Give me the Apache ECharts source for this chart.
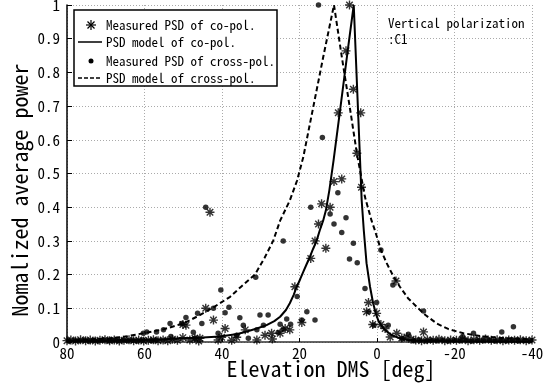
<!doctype html>
<html>
<head>
<meta charset="utf-8">
<title>PSD elevation</title>
<script src="https://cdn.jsdelivr.net/npm/echarts@6.0.0/dist/echarts.min.js"></script>
<style>
  html, body { margin: 0; padding: 0; background: #fff; }
  #main { width: 552px; height: 391px; }
</style>
</head>
<body>
<div id="main"></div>
<script>
var FONT = "'Noto Sans Mono CJK JP', 'DejaVu Sans Mono', monospace";

// axis ranges (x runs 80 -> -40)
var xMin = -40, xMax = 80, xStep = 20;
var yMin = 0, yMax = 1, yStep = 0.1;

var legendNames = ['Measured PSD of co-pol.', 'PSD model of co-pol.', 'Measured PSD of cross-pol.', 'PSD model of cross-pol.'];

// measured co-pol (asterisks) [deg, power]
var coMeasured = [
  [7.1,1.0],[8.0,0.864],[6.1,0.75],[10.0,0.68],[4.2,0.68],[5.2,0.56],
  [9.1,0.484],[11.1,0.476],[4.0,0.459],[14.3,0.41],[12.1,0.40],[15.1,0.35],
  [16.0,0.30],[13.2,0.278],[17.1,0.248],[21.2,0.164],[43.1,0.385],
  [2.2,0.117],[2.7,0.09],[-4.9,0.181],[0.1,0.085],[1.1,0.052],[-1.0,0.052],
  [-2.1,0.04],[-5.1,0.026],[-12,0.03],[44.2,0.1],[42.2,0.065],[49.3,0.05],
  [50.1,0.052],[19.4,0.058],[39.2,0.04],[34,0.036],[28.9,0.02],[27.2,0.026],
  [25,0.026],[23.7,0.04],[22.5,0.036],[45.7,0.011],[36.2,0.014],[40.1,0.014],
  [48.3,0.006],[50.1,0.013],[47,0.011],[-3.4,0.015],[-6.4,0.012],[-7.7,0.015],
  [-8.8,0.008],
  [80,0.004],[79,0.006],[77.8,0.003],[76.5,0.007],[75.2,0.004],[74,0.006],
  [72.7,0.003],[71.5,0.005],[70.2,0.007],[69,0.004],[67.8,0.006],[66.5,0.003],
  [65.3,0.005],[64,0.007],[62.8,0.004],[61.5,0.006],[60.2,0.003],[59,0.005],
  [57.7,0.007],[56.5,0.004],[55.2,0.006],[54,0.004],[52.8,0.008],[51.5,0.005],
  [46,0.003],[41,0.006],[37.5,0.005],[31,0.006],[27,0.009],
  [-10,0.006],[-11.5,0.004],[-13,0.007],[-14.5,0.005],[-16,0.008],[-17.5,0.004],
  [-19,0.006],[-20.5,0.005],[-22,0.008],[-23.5,0.004],[-25,0.007],[-26.5,0.005],
  [-28,0.009],[-29.5,0.005],[-31,0.007],[-32.5,0.004],[-34,0.006],[-35.5,0.005],
  [-37,0.007],[-38.5,0.004],[-40,0.006]
];

// measured cross-pol (dots) [deg, power]
var crossMeasured = [
  [15.1,1.0],[14.1,0.607],[10.1,0.443],[17.1,0.40],[12.1,0.38],[8.0,0.369],
  [11.1,0.35],[9.1,0.325],[24.2,0.30],[6.1,0.293],[-1.0,0.273],[7.1,0.246],
  [5.1,0.235],[31.3,0.192],[-4.1,0.169],[3.1,0.159],[40.3,0.154],[20.6,0.135],
  [44.2,0.40],[0.1,0.117],[2.1,0.09],[18.1,0.09],[16,0.065],[19.4,0.065],
  [30.2,0.08],[28.1,0.08],[-12,0.092],[-2.9,0.05],[0.8,0.05],[-8.1,0.023],
  [-22.1,0.016],[-24.9,0.026],[-32.2,0.03],[-35.2,0.045],[42.2,0.1],[38.2,0.103],
  [39.2,0.087],[46.3,0.085],[49.3,0.073],[35.4,0.072],[45.2,0.055],[50.4,0.055],
  [53.4,0.055],[55.1,0.036],[56.9,0.03],[59.4,0.03],[60.3,0.026],[53.2,0.016],
  [47.4,0.029],[41,0.026],[34.5,0.05],[29.3,0.05],[31,0.036],[23.3,0.068],
  [25,0.053],[22.3,0.053],[24.2,0.038],[25.5,0.028],[33.2,0.011],[36.2,0.02],
  [47,0.011],[-6.5,0.01],
  [79.5,0.003],[78,0.005],[76.8,0.004],[75.5,0.006],[74.2,0.003],[73,0.005],
  [71.8,0.004],[70.5,0.006],[69.2,0.003],[68,0.005],[66.8,0.004],[65.5,0.006],
  [64.3,0.004],[63,0.005],[61.8,0.003],[60.5,0.006],[58.2,0.004],[57,0.006],
  [-9.5,0.004],[-11,0.006],[-12.8,0.003],[-14,0.005],[-15.5,0.004],[-17,0.006],
  [-18.5,0.003],[-20,0.005],[-21.5,0.004],[-23,0.006],[-24.5,0.003],[-26,0.005],
  [-27.5,0.004],[-29,0.006],[-30.5,0.003],[-32,0.005],[-33.5,0.004],[-35,0.006],
  [-36.5,0.003],[-38,0.005],[-39.5,0.004]
];

// model curves [deg, power]
var coModel = [
  [80,0.003],[70,0.004],[60,0.006],[55,0.008],[50,0.011],[45,0.013],[40.5,0.016],
  [36,0.024],[33.6,0.031],[31,0.04],[28.5,0.05],[26.5,0.062],[25,0.075],[23.5,0.095],
  [22.5,0.115],[21.5,0.14],[20.7,0.164],[19.8,0.187],[19,0.209],[18.2,0.23],
  [17.3,0.253],[16.5,0.276],[15.6,0.30],[14.8,0.33],[13.9,0.36],[13.2,0.39],
  [12.3,0.45],[11.2,0.54],[9.5,0.69],[7.5,0.87],[6,1.0],
  [4.8,0.66],[3.95,0.42],[3.4,0.33],[2.7,0.234],[1.8,0.164],[1.0,0.115],
  [0.3,0.085],[-0.3,0.065],[-1.3,0.045],[-2.5,0.031],[-4,0.019],[-5.9,0.011],
  [-8,0.006],[-10.2,0.004],[-20,0.002],[-40,0.001]
];

var crossModel = [
  [80,0.004],[75,0.007],[68.9,0.011],[65,0.016],[60.3,0.026],[55,0.038],[50,0.055],
  [46.5,0.075],[42.2,0.103],[37.9,0.134],[35,0.165],[31.5,0.2],[29,0.25],[26.8,0.30],
  [25,0.36],[22.5,0.42],[20.6,0.48],[19,0.55],[16.4,0.70],[13.8,0.85],[11.1,1.0],
  [9,0.84],[6.8,0.68],[5.2,0.56],[3.1,0.43],[1.4,0.36],[0.5,0.33],[-0.3,0.30],
  [-1.0,0.273],[-2.5,0.234],[-4,0.2],[-5.9,0.164],[-8,0.13],[-10.2,0.105],
  [-12.5,0.08],[-15.4,0.055],[-18.5,0.038],[-22.3,0.026],[-27,0.017],[-32,0.012],
  [-40,0.008]
];

var ASTERISK = 'path://M0,-5L0,5M-5,0L5,0M-3.6,-3.6L3.6,3.6M-3.6,3.6L3.6,-3.6';

var chart = echarts.init(document.getElementById('main'), null, { renderer: 'canvas' });

var option = {
  animation: false,
  backgroundColor: '#fff',
  grid: { left: 67, right: 20, top: 5, bottom: 49, containLabel: false, outerBoundsMode: 'none' },
  xAxis: {
    type: 'value', min: xMin, max: xMax, interval: xStep, inverse: true,
    axisLine: { show: true, onZero: false, lineStyle: { color: '#333', width: 1.5 } },
    axisTick: { show: true, inside: true, length: 4, lineStyle: { color: '#000' } },
    axisLabel: { color: '#000', fontFamily: FONT, fontSize: 15, margin: 4 },
    splitLine: { show: true, lineStyle: { color: '#aaa', type: [1, 2], width: 1 } }
  },
  yAxis: {
    type: 'value', min: yMin, max: yMax, interval: yStep,
    axisLine: { show: true, onZero: false, lineStyle: { color: '#000', width: 1.5 } },
    axisTick: { show: true, inside: true, length: 5, lineStyle: { color: '#000' } },
    axisLabel: { color: '#000', fontFamily: FONT, fontSize: 15, margin: 7 },
    splitLine: { show: true, lineStyle: { color: '#aaa', type: [1, 2], width: 1 } }
  },
  series: [
    {
      name: legendNames[1], type: 'line', data: coModel, showSymbol: false, symbol: 'none',
      lineStyle: { color: '#000', width: 2 }, z: 3
    },
    {
      name: legendNames[3], type: 'line', data: crossModel, showSymbol: false, symbol: 'none',
      lineStyle: { color: '#000', width: 2, type: [5, 3] }, z: 3
    },
    {
      name: legendNames[0], type: 'scatter', data: coMeasured, symbol: ASTERISK, symbolSize: 9,
      itemStyle: { color: '#000', borderColor: '#000', borderWidth: 1.4 }, z: 4
    },
    {
      name: legendNames[2], type: 'scatter', data: crossMeasured, symbol: 'circle', symbolSize: 5.5,
      itemStyle: { color: '#000' }, z: 4
    }
  ],
  graphic: [
    { type: 'rect', z: 100, shape: { x: 74, y: 10, width: 203, height: 76 },
      style: { fill: '#fff', stroke: '#000', lineWidth: 1.5 } },
    // asterisk icon
    { type: 'line', z: 101, shape: { x1: 91, y1: 20, x2: 91, y2: 30 }, style: { stroke: '#000', lineWidth: 1.2 } },
    { type: 'line', z: 101, shape: { x1: 86, y1: 25, x2: 96, y2: 25 }, style: { stroke: '#000', lineWidth: 1.2 } },
    { type: 'line', z: 101, shape: { x1: 87.5, y1: 21.5, x2: 94.5, y2: 28.5 }, style: { stroke: '#000', lineWidth: 1.2 } },
    { type: 'line', z: 101, shape: { x1: 87.5, y1: 28.5, x2: 94.5, y2: 21.5 }, style: { stroke: '#000', lineWidth: 1.2 } },
    // solid line icon
    { type: 'line', z: 101, shape: { x1: 78, y1: 42, x2: 102, y2: 42 }, style: { stroke: '#000', lineWidth: 1.5 } },
    // dot icon
    { type: 'circle', z: 101, shape: { cx: 91, cy: 61, r: 2.5 }, style: { fill: '#000' } },
    // dashed icon
    { type: 'line', z: 101, shape: { x1: 78, y1: 78, x2: 102, y2: 78 }, style: { stroke: '#000', lineWidth: 1.5, lineDash: [4, 2] } },
    { type: 'text', z: 101, x: 106, y: 25, style: { text: legendNames[0], font: '13px ' + FONT, fill: '#000', verticalAlign: 'middle' } },
    { type: 'text', z: 101, x: 106, y: 42, style: { text: legendNames[1], font: '13px ' + FONT, fill: '#000', verticalAlign: 'middle' } },
    { type: 'text', z: 101, x: 106, y: 61, style: { text: legendNames[2], font: '13px ' + FONT, fill: '#000', verticalAlign: 'middle' } },
    { type: 'text', z: 101, x: 106, y: 78, style: { text: legendNames[3], font: '13px ' + FONT, fill: '#000', verticalAlign: 'middle' } },
    // annotation
    { type: 'text', z: 101, x: 388, y: 23, style: { text: 'Vertical polarization', font: '13px ' + FONT, fill: '#000', verticalAlign: 'middle' } },
    { type: 'text', z: 101, x: 388, y: 39, style: { text: ':C1', font: '13px ' + FONT, fill: '#000', verticalAlign: 'middle' } },
    // axis titles
    { type: 'text', z: 101, x: 331, y: 369, style: { text: 'Elevation DMS [deg]', font: '22px ' + FONT, fill: '#000', align: 'center', verticalAlign: 'middle' } },
    { type: 'text', z: 101, x: 20, y: 190, rotation: Math.PI / 2, style: { text: 'Nomalized average power', font: '22px ' + FONT, fill: '#000', align: 'center', verticalAlign: 'middle' } }
  ]
};

chart.setOption(option);
</script>
</body>
</html>
